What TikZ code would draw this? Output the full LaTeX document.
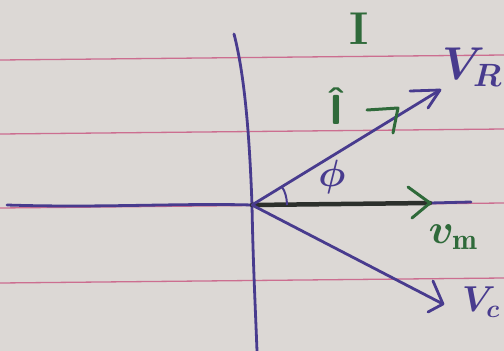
\RequirePackage{fix-cm}
\documentclass[tikz,border=0pt]{standalone}
\usepackage{fontspec}
\definecolor{paper}{HTML}{DCD8D5}
\definecolor{rule}{HTML}{CC6E90}
\definecolor{ink}{HTML}{483B8E}
\definecolor{dark}{HTML}{2C302C}
\definecolor{grn}{HTML}{2F6A3A}
\tikzset{
  ruled/.style={rule, line width=1.3pt},
  pen/.style={ink, line width=2.8pt, line cap=round, line join=round},
  gpen/.style={grn, line width=3pt, line cap=round, line join=round},
  lbl/.style={inner sep=0pt, outer sep=0pt, font=\bfseries\boldmath}
}
\begin{document}
\begin{tikzpicture}[x=1pt,y=-1pt]
\fill[paper] (0,0) rectangle (504,351);
\useasboundingbox (0,0) rectangle (504,351);
% ruled lines
\draw[ruled] (0,60) -- (504,55);
\draw[ruled] (0,134) -- (504,129);
\draw[ruled] (0,208) -- (504,203);
\draw[ruled] (0,283) -- (504,278);
% key points
\coordinate (O) at (252,205);
\coordinate (L) at (7,205);
\coordinate (Vt) at (234,34);
\coordinate (Vb) at (257,351);
\coordinate (R) at (440,90);
\coordinate (Rb1) at (410,91);
\coordinate (Rb2) at (428,108);
\coordinate (C) at (443,304);
\coordinate (Cb1) at (433,281);
\coordinate (Cb2) at (428,312);
\coordinate (M) at (430,203);
\coordinate (Mend) at (471,202);
\coordinate (Mb1) at (408,187);
\coordinate (Mb2) at (412,218);
\coordinate (A1) at (287,205);
\coordinate (A2) at (282,187);
\coordinate (G1) at (367,110);
\coordinate (G2) at (398,108);
\coordinate (G3) at (393,133);
% axes
\draw[pen] (Vt) .. controls (246,80) and (250,150) .. (O) .. controls (253,260) and (255,300) .. (Vb);
\draw[pen] (L) .. controls (100,208) and (180,203) .. (O);
% v_m (dark) with green arrowhead, purple tail
\draw[pen] (M) -- (Mend);
\draw[dark, line width=4.5pt, line cap=round] (O) -- (M);
\draw[gpen] (Mb1) -- (M) -- (Mb2);
% V_R
\draw[pen] (O) -- (R);
\draw[pen] (Rb1) -- (R) -- (Rb2);
% V_c
\draw[pen] (O) -- (C);
\draw[pen] (Cb1) -- (C) -- (Cb2);
% angle arc
\draw[ink, line width=2pt] (A1) .. controls (287,198) and (285,191) .. (A2);
% green arrow mark near V_R
\draw[gpen] (G1) -- (G2) -- (G3);
% labels
\node[lbl, grn] (tI) at (359,29) {\fontsize{46}{46}\selectfont I};
\node[lbl, grn] (that) at (336,106) {\fontsize{42}{42}\selectfont\sffamily Î};
\node[lbl, ink] (tphi) at (332,177) {\fontsize{38}{38}\selectfont$\phi$};
\node[lbl, ink] (tVR) at (472,67) {\fontsize{46}{46}\selectfont$V_{R}$};
\node[lbl, grn] (tvm) at (453,237) {\fontsize{42}{42}\selectfont$v_{\mathrm{m}}$};
\node[lbl, ink] (tVc) at (481,302) {\fontsize{36}{36}\selectfont$V_{c}$};
\end{tikzpicture}
\end{document}
